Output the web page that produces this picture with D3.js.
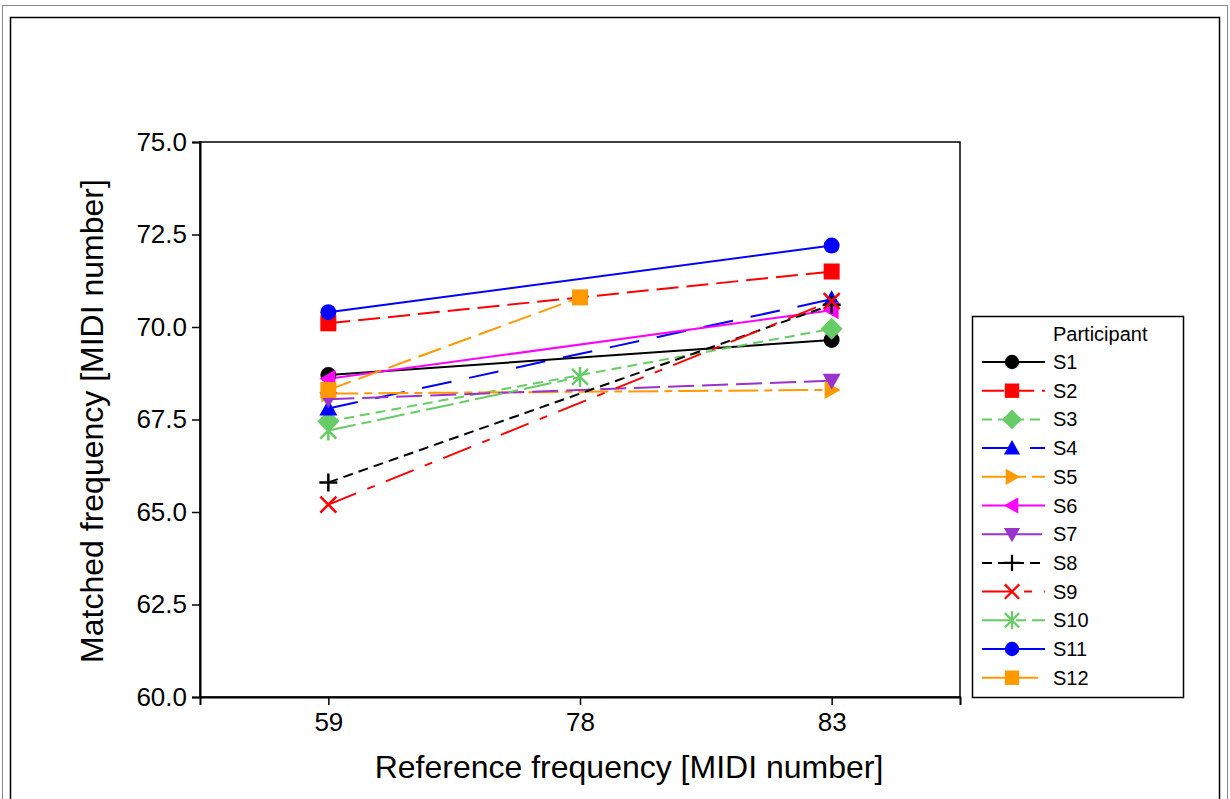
<!DOCTYPE html>
<html>
<head>
<meta charset="utf-8">
<script src="https://cdn.jsdelivr.net/npm/d3@7"></script>
<style>
  body { margin: 0; background: #fff; }
  text { font-family: "Liberation Sans", Arial, sans-serif; fill: #000; }
</style>
</head>
<body>
<script>
var width = 1230;
var height = 799;

// reference frequencies (categorical x axis)
var categories = ["59", "78", "83"];
var yTicks = [60, 62.5, 65, 67.5, 70, 72.5, 75];

var participants = ["S1", "S2", "S3", "S4", "S5", "S6", "S7", "S8", "S9", "S10", "S11", "S12"];
var refs = [
  ["59", "83"], ["59", "83"], ["59", "83"], ["59", "83"], ["59", "83"], ["59", "83"],
  ["59", "83"], ["59", "83"], ["59", "83"], ["59", "78"], ["59", "83"], ["59", "78"]
];
var matched = [
  [68.7, 69.65],
  [70.1, 71.5],
  [67.45, 69.95],
  [67.8, 70.75],
  [68.2, 68.3],
  [68.6, 70.45],
  [68.05, 68.55],
  [65.8, 70.6],
  [65.2, 70.7],
  [67.2, 68.65],
  [70.4, 72.2],
  [68.3, 70.8]
];

var colors = ["#000000", "#ff0000", "#66cc66", "#0000ff", "#ff9900", "#ff00ff",
              "#9933cc", "#000000", "#ff0000", "#66cc66", "#0000ff", "#ff9900"];
var dashes = [null, "22,8", "10,6", "30,18", "30,6,8,6", null,
              "26,8", "10,6", "30,12,8,12", "28,6,10,6", null, "24,8"];
var markers = ["circle", "square", "diamond", "up", "right", "left",
               "down", "plus", "cross", "star", "circle", "square"];

function markerPath(type) {
  if (type == "circle") return d3.symbol(d3.symbolCircle, 200)();
  if (type == "square") return "M-8,-8H8V8H-8Z";
  if (type == "diamond") return "M0,-11L11,0L0,11L-11,0Z";
  if (type == "up") return "M0,-9L9,7H-9Z";
  if (type == "down") return "M0,9L9,-7H-9Z";
  if (type == "right") return "M9,0L-7,-9V9Z";
  if (type == "left") return "M-9,0L7,-9V9Z";
  if (type == "plus") return "M-9,0H9M0,-9V9";
  if (type == "cross") return "M-8,-8L8,8M-8,8L8,-8";
  if (type == "star") return "M-8,-8L8,8M-8,8L8,-8M0,-10V10";
  return "";
}
function isStroked(type) {
  return type == "plus" || type == "cross" || type == "star";
}

var svg = d3.select("body").append("svg")
  .attr("width", width)
  .attr("height", height);

// outer frames
svg.append("rect").attr("x", 2.5).attr("y", 5.5).attr("width", 1225).attr("height", 810)
  .attr("fill", "none").attr("stroke", "#888").attr("stroke-width", 1);
svg.append("rect").attr("x", 10.5).attr("y", 17.5).attr("width", 1209).attr("height", 800)
  .attr("fill", "none").attr("stroke", "#000").attr("stroke-width", 1.5);

var x = d3.scalePoint().domain(categories).range([200, 960]).padding(0.51);
var y = d3.scaleLinear().domain([60, 75]).range([697, 142]);

// plot box
svg.append("rect").attr("x", 200).attr("y", 142).attr("width", 760).attr("height", 555)
  .attr("fill", "none").attr("stroke", "#000").attr("stroke-width", 1.5);

var yAxis = svg.append("g").attr("transform", "translate(200,0)")
  .call(d3.axisLeft(y).tickValues(yTicks).tickFormat(d3.format(".1f")).tickSize(8).tickPadding(5));
var xAxis = svg.append("g").attr("transform", "translate(0,697)")
  .call(d3.axisBottom(x).tickSize(8).tickPadding(8));
[yAxis, xAxis].forEach(function(a) {
  a.select(".domain").attr("stroke-width", 2);
  a.selectAll(".tick line").attr("stroke-width", 1.5);
  a.selectAll("text").style("font-size", "26px").style("font-family", "Liberation Sans, Arial, sans-serif");
});

svg.append("text").attr("x", 629).attr("y", 778).attr("text-anchor", "middle")
  .style("font-size", "32px").text("Reference frequency [MIDI number]");
svg.append("text").attr("transform", "translate(103,421) rotate(-90)").attr("text-anchor", "middle")
  .style("font-size", "32px").text("Matched frequency [MIDI number]");

// lines
var line = d3.line().x(function(d) { return x(d[0]); }).y(function(d) { return y(d[1]); });
participants.forEach(function(p, i) {
  var pts = refs[i].map(function(r, j) { return [r, matched[i][j]]; });
  svg.append("path").datum(pts).attr("d", line)
    .attr("fill", "none").attr("stroke", colors[i]).attr("stroke-width", 2)
    .attr("stroke-dasharray", dashes[i]);
});
// markers
participants.forEach(function(p, i) {
  refs[i].forEach(function(r, j) {
    var m = svg.append("path").attr("d", markerPath(markers[i]))
      .attr("transform", "translate(" + x(r) + "," + y(matched[i][j]) + ")");
    if (isStroked(markers[i])) m.attr("fill", "none").attr("stroke", colors[i]).attr("stroke-width", 2.5);
    else m.attr("fill", colors[i]);
  });
});

// legend
var lg = svg.append("g").attr("transform", "translate(972,316)");
lg.append("rect").attr("x", 0.5).attr("y", 0.5).attr("width", 211).attr("height", 381)
  .attr("fill", "#fff").attr("stroke", "#000").attr("stroke-width", 1.5);
lg.append("text").attr("x", 81).attr("y", 25).style("font-size", "20px").text("Participant");
participants.forEach(function(p, i) {
  var ly = 46 + i * 28.7;
  lg.append("line").attr("x1", 10).attr("x2", 73).attr("y1", ly).attr("y2", ly)
    .attr("stroke", colors[i]).attr("stroke-width", 2).attr("stroke-dasharray", dashes[i]);
  var m = lg.append("path").attr("d", markerPath(markers[i]))
    .attr("transform", "translate(40," + ly + ") scale(0.9)");
  if (isStroked(markers[i])) m.attr("fill", "none").attr("stroke", colors[i]).attr("stroke-width", 2.5);
  else m.attr("fill", colors[i]);
  lg.append("text").attr("x", 81).attr("y", ly + 7).style("font-size", "20px").text(p);
});
</script>
</body>
</html>
